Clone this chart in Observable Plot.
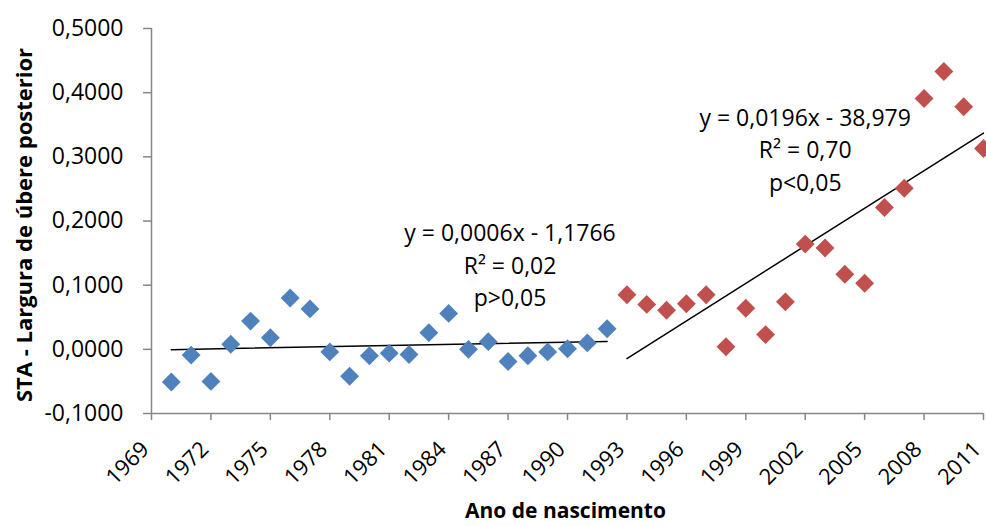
<!DOCTYPE html>
<html>
<head>
<meta charset="utf-8">
<script src="https://cdn.jsdelivr.net/npm/d3@7"></script>
<script src="https://cdn.jsdelivr.net/npm/@observablehq/plot@0.6"></script>
<style>
  body { margin: 0; background: #fff; }
  #chart svg { font-family: "Open Sans", "Lato", sans-serif; }
</style>
</head>
<body>
<div id="chart"></div>
<script>
// Period 1: 1970–1992
const years1 = [1970, 1971, 1972, 1973, 1974, 1975, 1976, 1977, 1978, 1979, 1980, 1981,
                1982, 1983, 1984, 1985, 1986, 1987, 1988, 1989, 1990, 1991, 1992];
const sta1 = [-0.051, -0.009, -0.050, 0.008, 0.044, 0.018, 0.080, 0.063, -0.004, -0.042, -0.010, -0.006,
              -0.008, 0.026, 0.056, 0.000, 0.012, -0.019, -0.010, -0.004, 0.001, 0.010, 0.032];

// Period 2: 1993–2011
const years2 = [1993, 1994, 1995, 1996, 1997, 1998, 1999, 2000, 2001, 2002, 2003, 2004,
                2005, 2006, 2007, 2008, 2009, 2010, 2011];
const sta2 = [0.085, 0.070, 0.061, 0.071, 0.085, 0.004, 0.064, 0.023, 0.074, 0.164, 0.158, 0.117,
              0.103, 0.221, 0.251, 0.391, 0.433, 0.378, 0.313];

// Axis ticks
const xTicks = [1969, 1972, 1975, 1978, 1981, 1984, 1987, 1990, 1993, 1996, 1999, 2002, 2005, 2008, 2011];
const yTicks = [-0.1, 0, 0.1, 0.2, 0.3, 0.4, 0.5];

// Regression annotations (anchored at the middle line of each block)
const eq1 = ["y = 0,0006x - 1,1766", "R² = 0,02", "p>0,05"];
const eq2 = ["y = 0,0196x - 38,979", "R² = 0,70", "p<0,05"];
const eqAnchors = [
  {x: 1987.1, y: 0.134, text: eq1.join("\n")},
  {x: 2002.0, y: 0.314, text: eq2.join("\n")}
];

const xTitle = "Ano de nascimento";
const yTitle = "STA - Largura de úbere posterior";

const data1 = years1.map((year, i) => ({year, value: sta1[i]}));
const data2 = years2.map((year, i) => ({year, value: sta2[i]}));

const ptFormat = d3.formatLocale({decimal: ",", thousands: ".", grouping: [3], currency: ["", ""], minus: "-"}).format(".4f");

const axisGrey = "#868686";
const blue = "#4F81BD";
const red = "#C0504D";

const chart = Plot.plot({
  width: 986,
  height: 526,
  marginLeft: 151,
  marginRight: 3,
  marginTop: 28,
  marginBottom: 113,
  style: {fontSize: "23px", color: "#000", background: "#fff"},
  x: {domain: [1969, 2011]},
  y: {domain: [-0.1, 0.5]},
  marks: [
    // axis lines
    Plot.ruleX([1969], {stroke: axisGrey, strokeWidth: 1.5}),
    Plot.ruleY([-0.1], {stroke: axisGrey, strokeWidth: 1.5}),
    Plot.axisY({ticks: yTicks, tickFormat: ptFormat, tickSize: 8, tickPadding: 20, stroke: axisGrey, strokeWidth: 1.5, fill: "#000", label: null, fontSize: 23}),
    // x tick marks, with the slanted year labels drawn as a separate text mark
    Plot.axisX({ticks: xTicks, tickFormat: () => "", tickSize: 7, stroke: axisGrey, strokeWidth: 1.5, label: null}),
    Plot.text(xTicks, {x: d => d, text: d => String(d), frameAnchor: "bottom", rotate: -45, textAnchor: "end", lineAnchor: "middle", dx: -6, dy: 32, fontSize: 22, fill: "#000"}),
    // trend lines
    Plot.linearRegressionY(data1, {x: "year", y: "value", ci: 0, stroke: "#000", strokeWidth: 1.5}),
    Plot.linearRegressionY(data2, {x: "year", y: "value", ci: 0, stroke: "#000", strokeWidth: 1.5}),
    // points
    Plot.dot(data1, {x: "year", y: "value", symbol: "diamond2", r: 8.5, fill: blue, stroke: "none"}),
    Plot.dot(data2, {x: "year", y: "value", symbol: "diamond2", r: 8.5, fill: red, stroke: "none"}),
    // equations
    Plot.text(eqAnchors, {x: "x", y: "y", text: "text", fontSize: 23, lineHeight: 1.41, fill: "#000"}),
    // axis titles
    Plot.text([yTitle], {frameAnchor: "left", textAnchor: "middle", rotate: -90, dx: -127, dy: 4, fontWeight: "bold", fontSize: 22, fill: "#000"}),
    Plot.text([xTitle], {frameAnchor: "bottom", textAnchor: "middle", lineAnchor: "top", dx: -2, dy: 90, fontWeight: "bold", fontSize: 21, fill: "#000"})
  ]
});

document.getElementById("chart").appendChild(chart);
</script>
</body>
</html>
